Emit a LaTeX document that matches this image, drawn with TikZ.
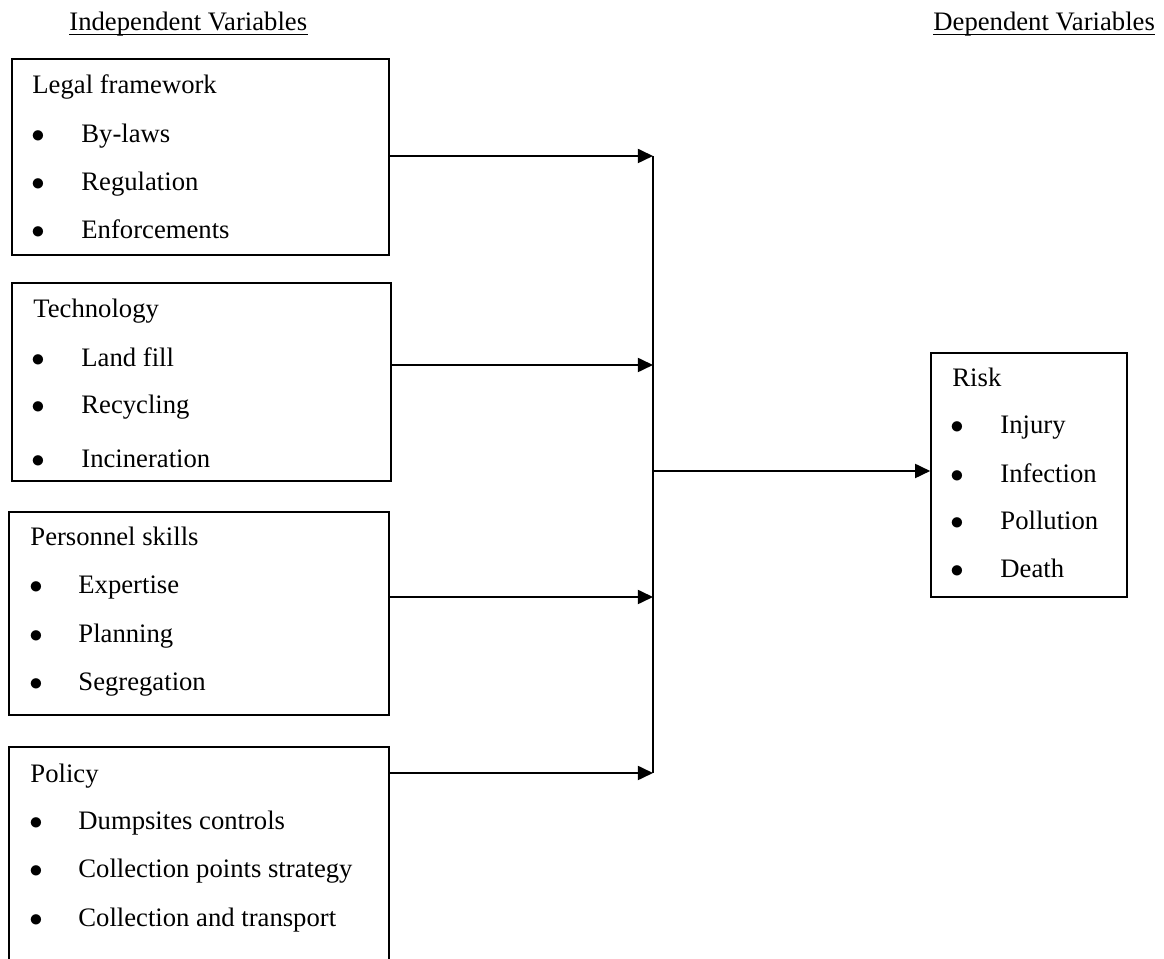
\documentclass[tikz,border=0pt]{standalone}
\usepackage{fontspec}
\setmainfont{Liberation Serif}
\usetikzlibrary{arrows.meta}
\usetikzlibrary{fit}

\begin{document}
\begin{tikzpicture}[x=0.45pt, y=-0.45pt, line join=miter]

    % one unit is one pixel of the scanned figure,
    % y grows downwards like in the scan
    \useasboundingbox (0,0) rectangle (1164,959);
    \clip (0,0) rectangle (1164,959);

    \tikzset{%
      var_box/.style    = {draw=black, line width=0.7pt, inner sep=0pt},
      var_text/.style   = {anchor=base west, inner sep=0pt, font=\fontsize{12}{14}\selectfont},
      var_bullet/.style = {anchor=base, inner sep=0pt, font=\fontsize{12}{14}\selectfont},
      flow_arrow/.style = {line width=0.9pt, -{Triangle[length=6.8pt,width=6.3pt]}}
    }

    % headings
    \node[var_text] (indep) at (69,31)  {Independent Variables};
    \node[var_text] (dep)   at (933,31) {Dependent Variables};
    \foreach \h in {indep,dep}
      \draw[line width=0.5pt] ([yshift=-1.5pt]\h.base west) -- ([yshift=-1.5pt]\h.base east);

    % boxes
    \node[var_box, fit={(12,59) (389,255)}]    (legal)  {};
    \node[var_box, fit={(12,283) (391,481)}]   (tech)   {};
    \node[var_box, fit={(9,512) (389,715)}]    (skills) {};
    \node[var_box, fit={(9,747) (389,1000)}]   (policy) {}; % runs past the bottom edge
    \node[var_box, fit={(931,353) (1127,597)}] (risk)   {};

    % box titles
    \foreach \nm/\x/\y/\txt in {%
      legal/32/94/Legal framework,
      tech/33/318/Technology,
      skills/30/546/Personnel skills,
      policy/30/783/Policy,
      risk/952/387/Risk%
    }
      \node[var_text] (\nm-title) at (\x,\y) {\txt};

    % bullet items
    \foreach \nm/\xb/\xi/\y/\txt [count=\i] in {%
      legal/38/81/143/By-laws,
      legal/38/81/191/Regulation,
      legal/38/81/239/Enforcements,
      tech/38/81/367/Land fill,
      tech/38/81/414/Recycling,
      tech/38/81/468/Incineration,
      skills/36/78/594/Expertise,
      skills/36/78/643/Planning,
      skills/36/78/691/Segregation,
      policy/36/78/830/Dumpsites controls,
      policy/36/78/878/Collection points strategy,
      policy/36/78/927/Collection and transport,
      risk/957/1000/434/Injury,
      risk/957/1000/483/Infection,
      risk/957/1000/530/Pollution,
      risk/957/1000/578/Death%
    }{
      \node[var_bullet] (\nm-dot-\i)  at (\xb,\y) {$\bullet$};
      \node[var_text]   (\nm-item-\i) at (\xi,\y) {\txt};
    }

    % collecting line and arrows
    \coordinate (hub-top) at (653,156);
    \coordinate (hub-bot) at (653,773);
    \coordinate (hub-out) at (653,471);
    \draw[line width=0.9pt] (hub-top) -- (hub-bot);

    \foreach \nm/\y in {legal/156, tech/365, skills/597, policy/773}{
      \coordinate (hub-\nm) at (653,\y);
      \draw[flow_arrow] (\nm.east |- hub-\nm) -- (hub-\nm);
    }
    \draw[flow_arrow] (hub-out) -- (risk.west |- hub-out);

\end{tikzpicture}
\end{document}
